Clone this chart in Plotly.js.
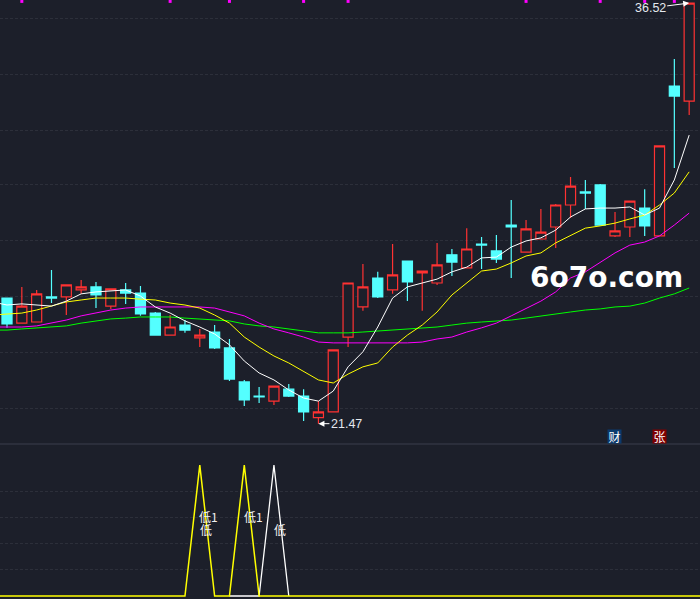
<!DOCTYPE html>
<html><head><meta charset="utf-8">
<script src="https://cdn.plot.ly/plotly-3.0.1.min.js"></script>
<style>html,body{margin:0;padding:0;background:#1c1f2a;overflow:hidden}#c{width:700px;height:599px}</style>
</head><body><div id="c"></div>
<script>
const sessions = [0,1,2,3,4,5,6,7,8,9,10,11,12,13,14,15,16,17,18,19,20,21,22,23,24,25,26,27,28,29,30,31,32,33,34,35,36,37,38,39,40,41,42,43,44,45,46];
const open  = [25.93,25.03,25.07,25.97,25.97,26.22,26.33,25.64,26.22,26.11,25.39,24.60,24.96,24.50,24.71,24.14,22.92,22.41,22.23,22.66,22.41,21.64,21.84,24.53,25.61,26.65,26.22,27.26,26.83,26.47,27.48,27.01,27.87,27.62,28.55,27.58,28.05,28.48,29.27,29.74,29.99,28.16,28.48,29.16,28.16,33.54,33.00];
const high  = [25.93,26.33,26.22,26.94,26.40,26.58,26.51,26.26,26.47,26.36,25.43,25.32,25.14,24.82,24.96,24.46,22.99,22.74,22.77,22.84,22.66,22.23,24.07,26.47,27.15,26.87,27.87,27.26,26.90,27.91,27.69,28.44,28.12,28.19,29.45,28.73,29.13,29.31,30.28,30.17,30.02,29.02,29.41,29.84,31.39,34.51,36.52];
const low   = [24.86,25.03,25.07,25.75,25.32,26.08,25.57,25.54,25.72,25.29,24.60,24.60,24.68,24.17,24.10,22.95,22.05,22.16,22.09,22.38,21.52,21.42,21.84,24.17,25.47,25.93,26.08,25.82,25.47,26.40,26.72,27.01,26.97,27.19,26.65,27.58,28.05,27.73,28.80,29.13,28.55,28.12,28.12,28.16,28.16,30.60,32.50];
const close = [25.00,25.64,26.08,25.93,26.40,26.33,26.04,26.26,26.11,25.36,24.60,24.89,24.78,24.60,24.14,23.02,22.27,22.38,22.77,22.41,21.84,21.84,24.07,26.47,26.33,25.97,26.76,26.51,26.90,27.12,27.22,27.69,27.83,27.33,28.48,28.41,28.30,29.27,29.95,29.70,28.55,28.34,29.41,28.52,31.39,33.18,36.52];

const maSessions = [-1,0,1,2,3,4,5,6,7,8,9,10,11,12,13,14,15,16,17,18,19,20,21,22,23,24,25,26,27,28,29,30,31,32,33,34,35,36,37,38,39,40,41,42,43,44,45,46];
const ma5  = [25.79,25.68,25.72,25.68,25.64,25.82,26.08,26.15,26.18,26.22,26.00,25.61,25.39,25.11,24.89,24.64,24.25,23.67,23.24,22.99,22.63,22.34,22.23,22.59,23.46,24.00,24.89,25.93,26.33,26.47,26.61,26.87,27.04,27.37,27.40,27.76,27.98,28.09,28.37,28.84,29.13,29.16,29.16,29.20,28.91,29.16,30.17,31.78];
const ma10 = [25.32,25.36,25.39,25.50,25.64,25.79,25.86,25.93,25.93,25.93,25.89,25.86,25.75,25.68,25.57,25.32,25.03,24.53,24.17,23.85,23.60,23.28,22.99,22.88,23.20,23.46,23.60,24.17,24.60,24.96,25.43,26.04,26.47,26.90,26.97,27.19,27.44,27.55,27.91,28.19,28.44,28.52,28.62,28.77,28.91,29.27,29.70,30.46];
const ma20 = [24.89,24.89,24.89,24.93,25.03,25.14,25.29,25.39,25.50,25.57,25.61,25.61,25.61,25.61,25.61,25.57,25.43,25.29,25.03,24.82,24.68,24.53,24.35,24.32,24.32,24.32,24.32,24.32,24.32,24.35,24.46,24.53,24.71,24.86,25.03,25.29,25.57,25.82,26.15,26.65,26.87,27.22,27.55,27.83,27.94,28.16,28.55,28.98];
const ma60 = [24.78,24.78,24.82,24.86,24.89,24.93,25.03,25.11,25.18,25.21,25.25,25.25,25.25,25.21,25.18,25.14,25.11,25.00,24.93,24.89,24.82,24.75,24.68,24.68,24.68,24.71,24.75,24.78,24.82,24.86,24.89,24.96,25.03,25.07,25.11,25.14,25.21,25.29,25.36,25.43,25.50,25.54,25.61,25.64,25.75,25.93,26.08,26.29];

const markSessions = [1,11,15,20,23,35,40,43,45];
const markLevels = [36.58,36.58,36.58,36.58,36.58,36.58,36.58,36.58,36.58];
const priceGrid = [35.98,33.97,31.96,29.99,27.98,25.97,23.96,21.95];

const signalSessions = [-1,0,1,2,3,4,5,6,7,8,9,10,11,12,13,14,15,16,17,18,19,20,21,22,23,24,25,26,27,28,29,30,31,32,33,34,35,36,37,38,39,40,41,42,43,44,45,46,47];
const signalYellow = [0,0,0,0,0,0,0,0,0,0,0,0,0,0,1,0,0,1,0,0,0,0,0,0,0,0,0,0,0,0,0,0,0,0,0,0,0,0,0,0,0,0,0,0,0,0,0,0,0];
const signalWhiteSessions = [15,16,17,18,19];
const signalWhite = [0,0,0,1,0];
const signalGrid = [0.2,0.4,0.6,0.8];
const signalText = ['低1','低','低1','低'];
const signalTextX = [13.62,13.42,16.59,18.41];
const signalTextY = [0.61,0.51,0.61,0.51];

const BG = '#1c1f2a', GRID = '#2c2f3a', RED = '#ff3232', CYAN = '#54ffff';
const CJK = '"Noto Sans CJK SC","Noto Sans",sans-serif';
const LAT = '"Liberation Sans",Arial,sans-serif';
const SPLIT = 1 - 444/599;
const xr = [-0.472, 46.73];

const maLine = (y, color) => ({type:'scatter', mode:'lines', x:maSessions, y, xaxis:'x', yaxis:'y',
  line:{color, width:1}, hoverinfo:'skip', showlegend:false});

const traces = [
  {type:'candlestick', x:sessions, open, high, low, close, xaxis:'x', yaxis:'y', whiskerwidth:0,
   increasing:{line:{color:RED, width:1.2}, fillcolor:BG},
   decreasing:{line:{color:CYAN, width:1.2}, fillcolor:CYAN},
   hoverinfo:'skip', showlegend:false},
  maLine(ma60,'#00ff00'), maLine(ma20,'#ff00ff'), maLine(ma10,'#ffff00'), maLine(ma5,'#ffffff'),
  {type:'scatter', mode:'markers', x:markSessions, y:markLevels, xaxis:'x', yaxis:'y',
   marker:{symbol:'square', size:3, color:'#ff00ff'}, cliponaxis:false, hoverinfo:'skip', showlegend:false},
  {type:'scatter', mode:'lines', x:signalWhiteSessions, y:signalWhite, xaxis:'x2', yaxis:'y2',
   line:{color:'#ffffff', width:1.3}, hoverinfo:'skip', showlegend:false},
  {type:'scatter', mode:'lines', x:signalSessions, y:signalYellow, xaxis:'x2', yaxis:'y2',
   line:{color:'#ffff00', width:1.5}, hoverinfo:'skip', showlegend:false}
];

const annotations = signalText.map((t,i) => ({
  xref:'x2', yref:'y2', x:signalTextX[i], y:signalTextY[i], text:t, showarrow:false,
  font:{family:CJK, size:12, color:'#f0f0f0'}
}));
annotations.push(
  {xref:'x', yref:'y', x:46, y:36.52, ax:-39, ay:5, text:'36.52', showarrow:true, arrowhead:2, arrowsize:1.2,
   arrowwidth:1, arrowcolor:'#ffffff', standoff:0, font:{family:LAT, size:12.5, color:'#e4e8ee'}},
  {xref:'x', yref:'y', x:21, y:21.42, ax:28, ay:0, text:'21.47', showarrow:true, arrowhead:2, arrowsize:1.2,
   arrowwidth:1, arrowcolor:'#ffffff', standoff:0, font:{family:LAT, size:12.5, color:'#e4e8ee'}},
  {xref:'paper', yref:'paper', x:606/700, y:1-278/599, text:'6o7o.com', showarrow:false, xanchor:'center', yanchor:'middle',
   font:{family:'"DejaVu Sans",sans-serif', size:28, color:'#ffffff', weight:700}},
  {xref:'paper', yref:'paper', x:614.5/700, y:1-436.5/599, xanchor:'center', yanchor:'middle', text:'财', showarrow:false, width:13, height:13, borderpad:0,
   bgcolor:'#0b3a6e', font:{family:CJK, size:12, color:'#ffffff'}},
  {xref:'paper', yref:'paper', x:659/700, y:1-436.5/599, xanchor:'center', yanchor:'middle', text:'张', showarrow:false, width:13, height:13, borderpad:0,
   bgcolor:'#800000', font:{family:CJK, size:12, color:'#ffffff'}}
);

const layout = {
  width:700, height:599, margin:{l:0,r:0,t:0,b:0,pad:0},
  paper_bgcolor:BG, plot_bgcolor:BG, showlegend:false, hovermode:false,
  boxmode:'overlay', boxgap:0.32, boxgroupgap:0,
  xaxis:{range:xr, domain:[0,1], anchor:'y', showgrid:false, zeroline:false, showticklabels:false, ticks:'', rangeslider:{visible:false}, type:'linear'},
  yaxis:{range:[20.69,36.63], domain:[SPLIT,1], anchor:'x', tickmode:'array', tickvals:priceGrid, showticklabels:false, ticks:'',
         gridcolor:GRID, griddash:'3px,2px', gridwidth:1, zeroline:false},
  xaxis2:{range:xr, domain:[0,1], anchor:'y2', showgrid:false, zeroline:false, showticklabels:false, ticks:'', type:'linear'},
  yaxis2:{range:[-0.023,1.162], domain:[0,SPLIT], anchor:'x2', tickmode:'array', tickvals:signalGrid, showticklabels:false, ticks:'',
         gridcolor:GRID, griddash:'3px,2px', gridwidth:1, zeroline:false},
  shapes:[{type:'line', xref:'paper', yref:'paper', x0:0, x1:1, y0:SPLIT, y1:SPLIT, line:{color:'#3a3f4c', width:1}}],
  annotations
};
Plotly.newPlot('c', traces, layout, {staticPlot:true, displayModeBar:false});
</script></body></html>
